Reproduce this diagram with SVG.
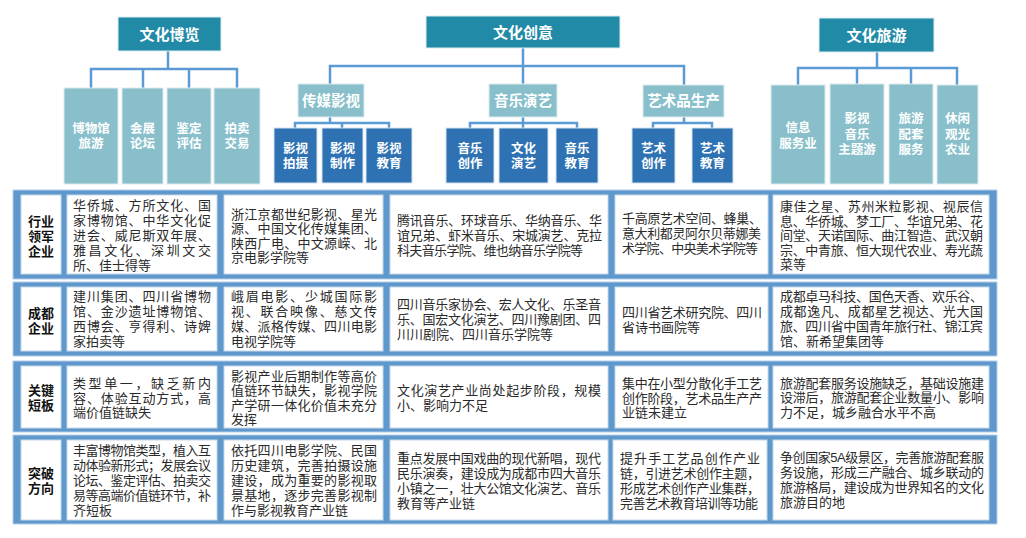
<svg xmlns="http://www.w3.org/2000/svg" width="1026" height="538" viewBox="0 0 1026 538">
<style>
.top{fill:#218AA6;stroke:#DCECF1;stroke-width:1}
.lt{fill:#88BFCB;stroke:#DCEBEF;stroke-width:1}
.dk{fill:#2E72B3;stroke:#D3E1EF;stroke-width:1}
.wt{font-family:"Liberation Sans","Noto Sans CJK SC",sans-serif;fill:#fff;font-weight:bold;text-anchor:middle}
.t15{font-size:15px}
.t14{font-size:14.5px}
.t12{font-size:12.5px}
.conn{fill:none;stroke:#5B9BD5;stroke-width:2.5}
.band{fill:#5E98CD;stroke:#B3CDE8;stroke-width:1}
.cell{fill:#fff;stroke:#C6D7E9;stroke-width:1}
.tx{font-family:"Liberation Sans","Noto Sans CJK SC",sans-serif;font-size:13px;fill:#2a2a2a}
.lb{font-family:"Liberation Sans","Noto Sans CJK SC",sans-serif;font-size:13px;font-weight:bold;fill:#111;text-anchor:middle}
</style>
<rect width="1026" height="538" fill="#fff"/>

<g id="connectors">
<path class="conn" d="M168,51 V69 M91,88 V69 H237 V88 M143,69 V88 M189,69 V88"/>
<path class="conn" d="M523,48 V84 M330,84 V66 H684 V85"/>
<path class="conn" d="M330,117 V123 M295,128 V123 H389 V128 M342,123 V128"/>
<path class="conn" d="M523,117 V128 M470,128 V123 H577 V128"/>
<path class="conn" d="M684,117 V123 M653,128 V123 H712 V128"/>
<path class="conn" d="M877,52 V68 M798,85 V68 H957 V85 M857,68 V84 M911,68 V84"/>
</g>

<g id="wenhuabolan"><rect class="top" x="118" y="17" width="103" height="34"/><text class="wt t15" x="169.5" y="39.5">文化博览</text></g>
<g id="wenhuachuangyi"><rect class="top" x="426" y="16" width="194" height="32"/><text class="wt t15" x="523" y="37.5">文化创意</text></g>
<g id="wenhualvyou"><rect class="top" x="819" y="18" width="115" height="34"/><text class="wt t15" x="876.5" y="40.5">文化旅游</text></g>

<g id="bowuguan"><rect class="lt" x="64" y="88" width="54" height="96"/><text class="wt t12"><tspan x="91" y="132.5">博物馆</tspan><tspan x="91" y="147.5">旅游</tspan></text></g>
<g id="huizhan"><rect class="lt" x="122" y="88" width="41" height="96"/><text class="wt t12"><tspan x="142.5" y="132.5">会展</tspan><tspan x="142.5" y="147.5">论坛</tspan></text></g>
<g id="jianding"><rect class="lt" x="167" y="88" width="44" height="96"/><text class="wt t12"><tspan x="189" y="132.5">鉴定</tspan><tspan x="189" y="147.5">评估</tspan></text></g>
<g id="paimai"><rect class="lt" x="214" y="88" width="46" height="96"/><text class="wt t12"><tspan x="237" y="132.5">拍卖</tspan><tspan x="237" y="147.5">交易</tspan></text></g>

<g id="chuanmei"><rect class="lt" x="298" y="84" width="66" height="33"/><text class="wt t14" x="331" y="106">传媒影视</text></g>
<g id="yinyue"><rect class="lt" x="489" y="84" width="68" height="33"/><text class="wt t14" x="523" y="106">音乐演艺</text></g>
<g id="yishupin"><rect class="lt" x="643" y="85" width="81" height="32"/><text class="wt t14" x="683.5" y="106">艺术品生产</text></g>

<g id="yspaishe"><rect class="dk" x="274" y="128" width="43" height="55"/><text class="wt t12"><tspan x="295.5" y="152.5">影视</tspan><tspan x="295.5" y="167.5">拍摄</tspan></text></g>
<g id="yszhizuo"><rect class="dk" x="322" y="128" width="41" height="55"/><text class="wt t12"><tspan x="342.5" y="152.5">影视</tspan><tspan x="342.5" y="167.5">制作</tspan></text></g>
<g id="ysjiaoyu"><rect class="dk" x="366" y="128" width="46" height="55"/><text class="wt t12"><tspan x="389" y="152.5">影视</tspan><tspan x="389" y="167.5">教育</tspan></text></g>
<g id="yychuangzuo"><rect class="dk" x="446" y="128" width="48" height="55"/><text class="wt t12"><tspan x="470" y="152.5">音乐</tspan><tspan x="470" y="167.5">创作</tspan></text></g>
<g id="whyanyi"><rect class="dk" x="499" y="128" width="49" height="55"/><text class="wt t12"><tspan x="523.5" y="152.5">文化</tspan><tspan x="523.5" y="167.5">演艺</tspan></text></g>
<g id="yyjiaoyu"><rect class="dk" x="556" y="128" width="42" height="55"/><text class="wt t12"><tspan x="577" y="152.5">音乐</tspan><tspan x="577" y="167.5">教育</tspan></text></g>
<g id="yschuangzuo"><rect class="dk" x="632" y="128" width="43" height="55"/><text class="wt t12"><tspan x="653.5" y="152.5">艺术</tspan><tspan x="653.5" y="167.5">创作</tspan></text></g>
<g id="ysjy"><rect class="dk" x="692" y="128" width="41" height="55"/><text class="wt t12"><tspan x="712.5" y="152.5">艺术</tspan><tspan x="712.5" y="167.5">教育</tspan></text></g>

<g id="xinxi"><rect class="lt" x="771" y="85" width="54" height="99"/><text class="wt t12"><tspan x="798" y="131.5">信息</tspan><tspan x="798" y="147.5">服务业</tspan></text></g>
<g id="yingshiyinyue"><rect class="lt" x="830" y="84" width="54" height="100"/><text class="wt t12"><tspan x="857" y="122.5">影视</tspan><tspan x="857" y="138.5">音乐</tspan><tspan x="857" y="154">主题游</tspan></text></g>
<g id="lvyoupeitao"><rect class="lt" x="889" y="84" width="44" height="100"/><text class="wt t12"><tspan x="911" y="122.5">旅游</tspan><tspan x="911" y="138.5">配套</tspan><tspan x="911" y="154">服务</tspan></text></g>
<g id="xiuxian"><rect class="lt" x="937" y="85" width="41" height="99"/><text class="wt t12"><tspan x="957.5" y="122.5">休闲</tspan><tspan x="957.5" y="138.5">观光</tspan><tspan x="957.5" y="154">农业</tspan></text></g>

<g id="row1">
<rect class="band" x="13" y="190" width="984" height="89"/>
<rect class="cell" x="21" y="195" width="40" height="79"/>
<rect class="cell" x="67" y="195" width="150" height="79"/>
<rect class="cell" x="224" y="195" width="159" height="79"/>
<rect class="cell" x="390" y="195" width="218" height="79"/>
<rect class="cell" x="615" y="195" width="153" height="79"/>
<rect class="cell" x="773" y="195" width="216" height="79"/>
<text class="lb"><tspan x="41" y="226">行业</tspan><tspan x="41" y="241">领军</tspan><tspan x="41" y="256">企业</tspan></text>
<text class="tx"><tspan x="73" y="210" textLength="138" lengthAdjust="spacing">华侨城、方所文化、国</tspan><tspan x="73" y="225" textLength="138" lengthAdjust="spacing">家博物馆、中华文化促</tspan><tspan x="73" y="240" textLength="138" lengthAdjust="spacing">进会、威尼斯双年展、</tspan><tspan x="73" y="255" textLength="138" lengthAdjust="spacing">雅昌文化、深圳文交</tspan><tspan x="73" y="270">所、佳士得等</tspan></text>
<text class="tx"><tspan x="231" y="218.5" textLength="146" lengthAdjust="spacing">浙江京都世纪影视、星光</tspan><tspan x="231" y="233" textLength="146" lengthAdjust="spacing">源、中国文化传媒集团、</tspan><tspan x="231" y="247.5" textLength="146" lengthAdjust="spacing">陕西广电、中文源嵘、北</tspan><tspan x="231" y="262">京电影学院等</tspan></text>
<text class="tx"><tspan x="397" y="224.5" textLength="205" lengthAdjust="spacing">腾讯音乐、环球音乐、华纳音乐、华</tspan><tspan x="397" y="239.5" textLength="205" lengthAdjust="spacing">谊兄弟、虾米音乐、宋城演艺、克拉</tspan><tspan x="397" y="254.5" textLength="186" lengthAdjust="spacing">科夫音乐学院、维也纳音乐学院等</tspan></text>
<text class="tx"><tspan x="622" y="222.5" textLength="140" lengthAdjust="spacing">千高原艺术空间、蜂巢、</tspan><tspan x="622" y="237.5" textLength="139" lengthAdjust="spacing">意大利都灵阿尔贝蒂娜美</tspan><tspan x="622" y="252.5" textLength="136" lengthAdjust="spacing">术学院、中央美术学院等</tspan></text>
<text class="tx"><tspan x="780" y="211" textLength="203" lengthAdjust="spacing">康佳之星、苏州米粒影视、视辰信</tspan><tspan x="780" y="225.6" textLength="203" lengthAdjust="spacing">息、华侨城、梦工厂、华谊兄弟、花</tspan><tspan x="780" y="240.2" textLength="203" lengthAdjust="spacing">间堂、天诺国际、曲江智造、武汉朝</tspan><tspan x="780" y="254.8" textLength="203" lengthAdjust="spacing">宗、中青旅、恒大现代农业、寿光蔬</tspan><tspan x="780" y="269.4">菜等</tspan></text>
</g>

<g id="row2">
<rect class="band" x="13" y="282" width="984" height="74"/>
<rect class="cell" x="21" y="287" width="40" height="64"/>
<rect class="cell" x="67" y="287" width="150" height="64"/>
<rect class="cell" x="224" y="287" width="159" height="64"/>
<rect class="cell" x="390" y="287" width="218" height="64"/>
<rect class="cell" x="615" y="287" width="153" height="64"/>
<rect class="cell" x="773" y="287" width="216" height="64"/>
<text class="lb"><tspan x="41" y="317.5">成都</tspan><tspan x="41" y="332.5">企业</tspan></text>
<text class="tx"><tspan x="73" y="300.5" textLength="138" lengthAdjust="spacing">建川集团、四川省博物</tspan><tspan x="73" y="315.5" textLength="138" lengthAdjust="spacing">馆、金沙遗址博物馆、</tspan><tspan x="73" y="330.5" textLength="138" lengthAdjust="spacing">西博会、亨得利、诗婢</tspan><tspan x="73" y="345.5">家拍卖等</tspan></text>
<text class="tx"><tspan x="231" y="300.5" textLength="146" lengthAdjust="spacing">峨眉电影、少城国际影</tspan><tspan x="231" y="315.5" textLength="146" lengthAdjust="spacing">视、联合映像、慈文传</tspan><tspan x="231" y="330.5" textLength="146" lengthAdjust="spacing">媒、派格传媒、四川电影</tspan><tspan x="231" y="345.5">电视学院等</tspan></text>
<text class="tx"><tspan x="397" y="308.5" textLength="204" lengthAdjust="spacing">四川音乐家协会、宏人文化、乐圣音</tspan><tspan x="397" y="323.5" textLength="204" lengthAdjust="spacing">乐、国宏文化演艺、四川豫剧团、四</tspan><tspan x="397" y="338.5">川川剧院、四川音乐学院等</tspan></text>
<text class="tx"><tspan x="622" y="316.5" textLength="140" lengthAdjust="spacing">四川省艺术研究院、四川</tspan><tspan x="622" y="331.5">省诗书画院等</tspan></text>
<text class="tx"><tspan x="780" y="300.5" textLength="203" lengthAdjust="spacing">成都卓马科技、国色天香、欢乐谷、</tspan><tspan x="780" y="315.5" textLength="203" lengthAdjust="spacing">成都逸凡、成都星艺视达、光大国</tspan><tspan x="780" y="330.5" textLength="203" lengthAdjust="spacing">旅、四川省中国青年旅行社、锦江宾</tspan><tspan x="780" y="345.5">馆、新希望集团等</tspan></text>
</g>

<g id="row3">
<rect class="band" x="13" y="361" width="984" height="71"/>
<rect class="cell" x="21" y="366" width="40" height="62"/>
<rect class="cell" x="67" y="366" width="150" height="62"/>
<rect class="cell" x="224" y="366" width="159" height="62"/>
<rect class="cell" x="390" y="366" width="218" height="62"/>
<rect class="cell" x="615" y="366" width="153" height="62"/>
<rect class="cell" x="773" y="366" width="216" height="62"/>
<text class="lb"><tspan x="41" y="394.5">关键</tspan><tspan x="41" y="409.5">短板</tspan></text>
<text class="tx"><tspan x="73" y="387.5" textLength="138" lengthAdjust="spacing">类型单一，缺乏新内</tspan><tspan x="73" y="402.5" textLength="138" lengthAdjust="spacing">容、体验互动方式，高</tspan><tspan x="73" y="417">端价值链缺失</tspan></text>
<text class="tx"><tspan x="231" y="380.5" textLength="146" lengthAdjust="spacing">影视产业后期制作等高价</tspan><tspan x="231" y="395" textLength="146" lengthAdjust="spacing">值链环节缺失，影视学院</tspan><tspan x="231" y="409.5" textLength="146" lengthAdjust="spacing">产学研一体化价值未充分</tspan><tspan x="231" y="424">发挥</tspan></text>
<text class="tx"><tspan x="397" y="394.5" textLength="204" lengthAdjust="spacing">文化演艺产业尚处起步阶段，规模</tspan><tspan x="397" y="410">小、影响力不足</tspan></text>
<text class="tx"><tspan x="622" y="387.5" textLength="140" lengthAdjust="spacing">集中在小型分散化手工艺</tspan><tspan x="622" y="402.5" textLength="140" lengthAdjust="spacing">创作阶段，艺术品生产产</tspan><tspan x="622" y="417">业链未建立</tspan></text>
<text class="tx"><tspan x="780" y="387.5" textLength="204" lengthAdjust="spacing">旅游配套服务设施缺乏，基础设施建</tspan><tspan x="780" y="402.2" textLength="204" lengthAdjust="spacing">设滞后，旅游配套企业数量小、影响</tspan><tspan x="780" y="417">力不足，城乡融合水平不高</tspan></text>
</g>

<g id="row4">
<rect class="band" x="13" y="435" width="984" height="89"/>
<rect class="cell" x="21" y="440" width="40" height="80"/>
<rect class="cell" x="67" y="440" width="150" height="80"/>
<rect class="cell" x="224" y="440" width="159" height="80"/>
<rect class="cell" x="390" y="440" width="218" height="80"/>
<rect class="cell" x="613" y="440" width="154" height="80"/>
<rect class="cell" x="773" y="440" width="216" height="80"/>
<text class="lb"><tspan x="41" y="477.5">突破</tspan><tspan x="41" y="492.5">方向</tspan></text>
<text class="tx"><tspan x="73" y="454.5" textLength="138" lengthAdjust="spacing">丰富博物馆类型，植入互</tspan><tspan x="73" y="469.5" textLength="138" lengthAdjust="spacing">动体验新形式；发展会议</tspan><tspan x="73" y="484.5" textLength="138" lengthAdjust="spacing">论坛、鉴定评估、拍卖交</tspan><tspan x="73" y="499.5" textLength="138" lengthAdjust="spacing">易等高端价值链环节，补</tspan><tspan x="73" y="514.5">齐短板</tspan></text>
<text class="tx"><tspan x="231" y="454.5" textLength="146" lengthAdjust="spacing">依托四川电影学院、民国</tspan><tspan x="231" y="469.5" textLength="146" lengthAdjust="spacing">历史建筑，完善拍摄设施</tspan><tspan x="231" y="484.5" textLength="146" lengthAdjust="spacing">建设，成为重要的影视取</tspan><tspan x="231" y="499.5" textLength="146" lengthAdjust="spacing">景基地，逐步完善影视制</tspan><tspan x="231" y="514.5">作与影视教育产业链</tspan></text>
<text class="tx"><tspan x="397" y="462.5" textLength="204" lengthAdjust="spacing">重点发展中国戏曲的现代新唱，现代</tspan><tspan x="397" y="477.5" textLength="204" lengthAdjust="spacing">民乐演奏，建设成为成都市四大音乐</tspan><tspan x="397" y="492.5" textLength="204" lengthAdjust="spacing">小镇之一，壮大公馆文化演艺、音乐</tspan><tspan x="397" y="507.5">教育等产业链</tspan></text>
<text class="tx"><tspan x="620" y="462.5" textLength="140" lengthAdjust="spacing">提升手工艺品创作产业</tspan><tspan x="620" y="477.5" textLength="140" lengthAdjust="spacing">链，引进艺术创作主题，</tspan><tspan x="620" y="492.5" textLength="140" lengthAdjust="spacing">形成艺术创作产业集群，</tspan><tspan x="620" y="507.5" textLength="138" lengthAdjust="spacing">完善艺术教育培训等功能</tspan></text>
<text class="tx"><tspan x="780" y="462" textLength="204" lengthAdjust="spacing">争创国家5A级景区，完善旅游配套服</tspan><tspan x="780" y="477" textLength="204" lengthAdjust="spacing">务设施，形成三产融合、城乡联动的</tspan><tspan x="780" y="492" textLength="204" lengthAdjust="spacing">旅游格局，建设成为世界知名的文化</tspan><tspan x="780" y="507">旅游目的地</tspan></text>
</g>
</svg>
